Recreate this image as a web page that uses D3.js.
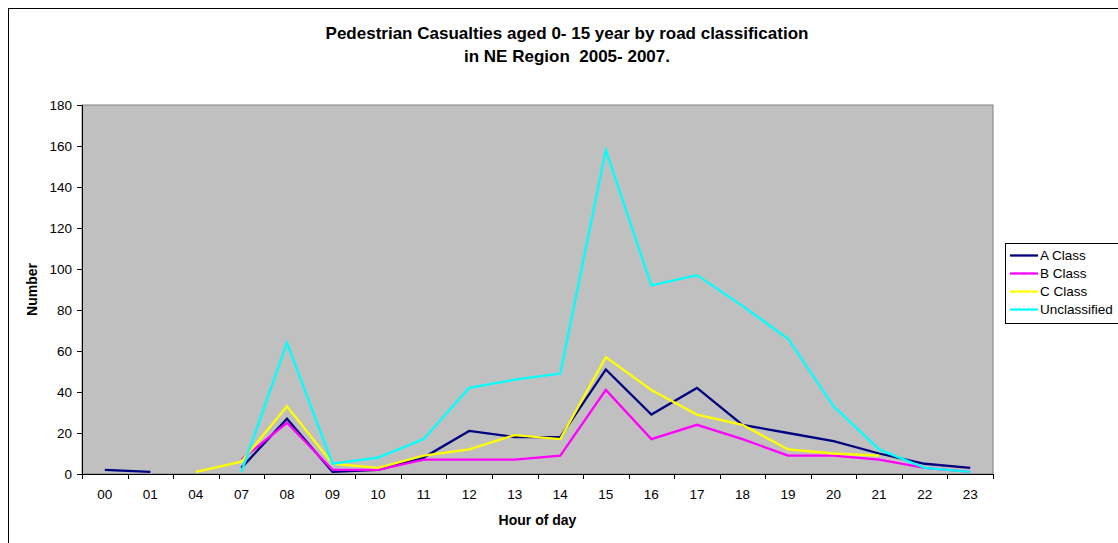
<!DOCTYPE html>
<html>
<head>
<meta charset="utf-8">
<script src="https://cdn.jsdelivr.net/npm/d3@7"></script>
<style>
  body { margin: 0; background: #fff; }
  svg { display: block; font-family: "Liberation Sans", Arial, sans-serif; }
</style>
</head>
<body>
<div id="chart"></div>
<script>
// hours shown on the x axis (02, 03, 05, 06 have no records)
var hours = ["00","01","04","07","08","09","10","11","12","13","14","15","16","17","18","19","20","21","22","23"];
var yTicks = [0, 20, 40, 60, 80, 100, 120, 140, 160, 180];

// casualties per hour, null = no value for that hour
var aClass       = [2, 1, null, 3, 27, 1, 2, 8, 21, 18, 18, 51, 29, 42, 24, 20, 16, 10, 5, 3];
var bClass       = [null, null, null, 7, 25, 2, 2, 7, 7, 7, 9, 41, 17, 24, 17, 9, 9, 7, 3, 1];
var cClass       = [null, null, 1, 6, 33, 5, 3, 9, 12, 19, 17, 57, 41, 29, 24, 12, 10, 9, null, null];
var unclassified = [null, null, null, 1, 64, 5, 8, 17, 42, 46, 49, 158, 92, 97, 82, 66, 33, 12, 3, 1];

var seriesNames  = ["A Class", "B Class", "C Class", "Unclassified"];
var seriesColors = ["#000080", "#ff00ff", "#ffff00", "#00ffff"];
var seriesValues = [aClass, bClass, cClass, unclassified];

var W = 1118, H = 543;
var margin = {top: 105, right: 125, bottom: 69, left: 82},
    width = W - margin.left - margin.right,   // 911
    height = H - margin.top - margin.bottom;  // 369

var svg = d3.select("#chart").append("svg")
    .attr("width", W)
    .attr("height", H);

// outer chart frame
svg.append("rect")
    .attr("x", 8.5).attr("y", 8.5)
    .attr("width", W + 20).attr("height", H + 20)
    .attr("fill", "#fff")
    .attr("stroke", "#000")
    .attr("stroke-width", 1);

// title
var title = svg.append("text")
    .attr("text-anchor", "middle")
    .attr("font-weight", "bold")
    .attr("font-size", "17px")
    .style("white-space", "pre")
    .attr("fill", "#000");
title.append("tspan").attr("x", 567).attr("y", 39)
    .text("Pedestrian Casualties aged 0- 15 year by road classification");
title.append("tspan").attr("x", 567).attr("y", 62)
    .text("in NE Region  2005- 2007.");

var g = svg.append("g")
    .attr("transform", "translate(" + margin.left + "," + margin.top + ")");

var x = d3.scaleBand().domain(hours).range([0, width]).padding(0);
var y = d3.scaleLinear().domain([0, 180]).range([height, 0]);

// plot area
g.append("rect")
    .attr("width", width).attr("height", height)
    .attr("fill", "#c0c0c0")
    .attr("stroke", "#808080")
    .attr("stroke-width", 1);

// y axis
var yAxis = g.append("g")
    .call(d3.axisLeft(y).tickValues(yTicks).tickSize(5).tickPadding(5));
yAxis.selectAll("text").attr("font-size", "13.5px").attr("font-family", null).attr("fill", "#000");
yAxis.selectAll("line").attr("stroke", "#000");
yAxis.select(".domain").attr("stroke", "#000");

// x axis: labels centred in bands, ticks on band boundaries
var xAxis = g.append("g")
    .attr("transform", "translate(0," + height + ")")
    .call(d3.axisBottom(x).tickSize(0).tickPadding(15));
xAxis.selectAll("text").attr("font-size", "13.5px").attr("font-family", null).attr("fill", "#000");
xAxis.select(".domain").attr("stroke", "#000");
var bounds = hours.map(function(d) { return x(d); }).concat([width]);
xAxis.selectAll(".bound")
    .data(bounds)
  .enter().append("line")
    .attr("class", "bound")
    .attr("x1", function(d) { return Math.round(d) + 0.5; })
    .attr("x2", function(d) { return Math.round(d) + 0.5; })
    .attr("y1", 0).attr("y2", 5)
    .attr("stroke", "#000");

// axis titles
svg.append("text")
    .attr("x", margin.left + width / 2)
    .attr("y", 525)
    .attr("text-anchor", "middle")
    .attr("font-weight", "bold")
    .attr("font-size", "14px")
    .text("Hour of day");
svg.append("text")
    .attr("transform", "translate(37," + (margin.top + height / 2) + ") rotate(-90)")
    .attr("text-anchor", "middle")
    .attr("font-weight", "bold")
    .attr("font-size", "14px")
    .text("Number");

// lines
var line = d3.line()
    .defined(function(d) { return d.v != null; })
    .x(function(d) { return x(d.h) + x.bandwidth() / 2; })
    .y(function(d) { return y(d.v); });

seriesValues.forEach(function(vals, i) {
  var pts = hours.map(function(h, j) { return {h: h, v: vals[j]}; });
  g.append("path")
      .datum(pts)
      .attr("fill", "none")
      .attr("stroke", seriesColors[i])
      .attr("stroke-width", 2.3)
      .attr("stroke-linejoin", "miter")
      .attr("d", line);
});

// legend
var legend = svg.append("g").attr("transform", "translate(1005,243)");
legend.append("rect")
    .attr("x", 0.5).attr("y", 0.5)
    .attr("width", 140).attr("height", 80)
    .attr("fill", "#fff")
    .attr("stroke", "#000");
seriesNames.forEach(function(name, i) {
  var ly = 12.5 + i * 18;
  legend.append("line")
      .attr("x1", 5).attr("x2", 33)
      .attr("y1", ly).attr("y2", ly)
      .attr("stroke", seriesColors[i])
      .attr("stroke-width", 2.3);
  legend.append("text")
      .attr("x", 35).attr("y", ly + 4.5)
      .attr("font-size", "13.5px")
      .text(name);
});
</script>
</body>
</html>
